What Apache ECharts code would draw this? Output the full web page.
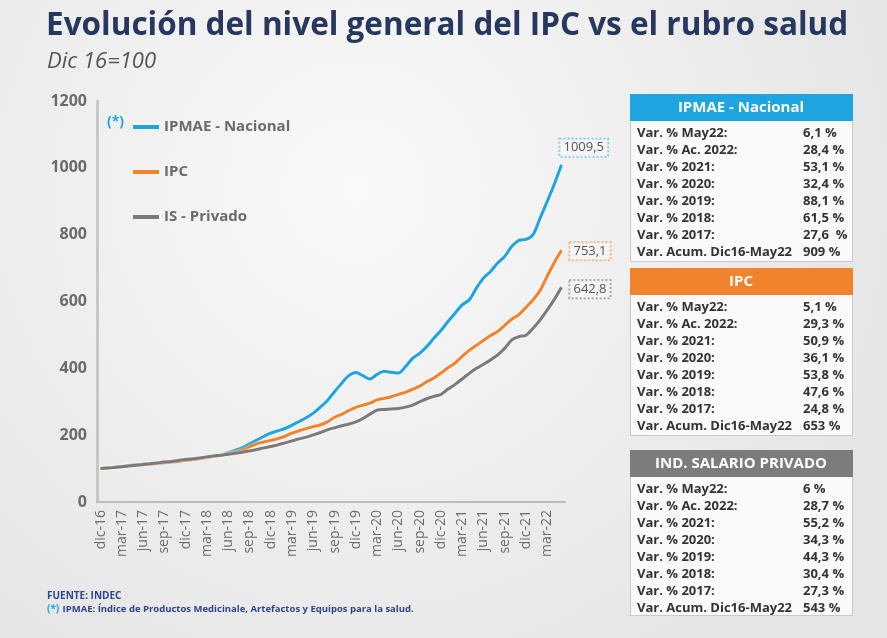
<!DOCTYPE html>
<html><head><meta charset="utf-8">
<script src="https://cdn.jsdelivr.net/npm/echarts@6/dist/echarts.min.js"></script>
<style>html,body{margin:0;padding:0;background:#f2f2f2;}#c{width:887px;height:638px;}</style>
</head><body><div id="c"></div>
<script>
const months = ['dic-16',
 'ene-17','feb-17','mar-17','abr-17','may-17','jun-17','jul-17','ago-17','sep-17','oct-17','nov-17','dic-17',
 'ene-18','feb-18','mar-18','abr-18','may-18','jun-18','jul-18','ago-18','sep-18','oct-18','nov-18','dic-18',
 'ene-19','feb-19','mar-19','abr-19','may-19','jun-19','jul-19','ago-19','sep-19','oct-19','nov-19','dic-19',
 'ene-20','feb-20','mar-20','abr-20','may-20','jun-20','jul-20','ago-20','sep-20','oct-20','nov-20','dic-20',
 'ene-21','feb-21','mar-21','abr-21','may-21','jun-21','jul-21','ago-21','sep-21','oct-21','nov-21','dic-21',
 'ene-22','feb-22','mar-22','abr-22','may-22'];

const ipmae = [100,
 102,104,106.5,109,111,113,115,117,119.5,122,124.5,127.6,
 129.5,131.5,134,137,141,148,155,163,174,185,196,206.1,
 213,220,230,241,252,266,284,304,330,355,378,387.6,
 378,368,382,391,388,386,405,430,445,465,490,513.2,
 540,565,590,605,640,670,690,715,735,765,783,785.7,
 800,850,900,951.5,1009.5];

const ipc = [100,
 101.6,103.7,106.1,108.9,110.5,111.8,113.8,115.4,117.6,119.4,121.0,124.8,
 127.0,130.1,133.1,136.8,139.6,144.8,149.3,155.1,165.2,174.1,179.6,184.3,
 189.6,196.8,206.0,213.1,219.6,225.5,230.5,239.6,253.7,262.1,273.2,283.4,
 289.8,295.7,305.6,310.1,314.9,322.0,328.2,337.1,346.6,359.7,371.0,385.9,
 401.5,415.9,435.9,453.7,468.7,483.6,498.1,510.4,528.5,547.1,560.9,582.5,
 605.2,633.5,676.1,716.9,753.1];

const isPrivado = [100,
 101.5,103.5,105.5,107.5,110,112.5,114.5,117,119.5,121.5,124,127.3,
 129,132,135,138,140,143,146,149,153,157,162,166,
 171,177,183,189,194,201,208,216,222,228,233,239.5,
 250,263,275,277,278,280,284,290,300,309,316,321.7,
 338,352,368,385,400,412,425,440,460,485,495,499.2,
 520,545,575,606.4,642.8];

const seriesNames = ['IPMAE - Nacional','IPC','IS - Privado'];
const yTicks = [0,200,400,600,800,1000,1200];

const tableTitles = ['IPMAE - Nacional','IPC','IND. SALARIO PRIVADO'];
const rowLabels = ['Var. % May22:','Var. % Ac. 2022:','Var. % 2021:','Var. % 2020:','Var. % 2019:','Var. % 2018:','Var. % 2017:','Var. Acum. Dic16-May22'];
const ipmaeVals = ['6,1 %','28,4 %','53,1 %','32,4 %','88,1 %','61,5 %','27,6  %','909 %'];
const ipcVals = ['5,1 %','29,3 %','50,9 %','36,1 %','53,8 %','47,6 %','24,8 %','653 %'];
const isVals = ['6 %','28,7 %','55,2 %','34,3 %','44,3 %','30,4 %','27,3 %','543 %'];

const FONT = '"Open Sans", "Noto Sans", sans-serif';
const BLUE = '#1ea5df', ORANGE = '#f0832c', GRAY = '#7a7a7a';

const chart = echarts.init(document.getElementById('c'), null, {renderer:'canvas'});

// tables
const tables = [
  {title: tableTitles[0], vals: ipmaeVals, color: BLUE, top: 94, bottom: 261},
  {title: tableTitles[1], vals: ipcVals, color: ORANGE, top: 268, bottom: 435},
  {title: tableTitles[2], vals: isVals, color: '#7c7c7c', top: 450, bottom: 615}
];
const graphics = [];
tables.forEach(t => {
  graphics.push({type:'rect', shape:{x:630.5, y:t.top+0.5, width:222, height:t.bottom-t.top},
    style:{fill:'#fafafa', stroke:'#c9c9c9', lineWidth:1}});
  graphics.push({type:'rect', shape:{x:630, y:t.top, width:223, height:27}, style:{fill:t.color}});
  graphics.push({type:'text', x:741, y:t.top+14, style:{text:t.title, fill:'#fff', font:'bold 15px '+FONT, align:'center', verticalAlign:'middle'}});
  rowLabels.forEach((lab, i) => {
    const y = t.top + 39 + i*17.1;
    graphics.push({type:'text', x:637, y:y, style:{text:lab, fill:'#333', font:'bold 13px '+FONT, verticalAlign:'middle'}});
    graphics.push({type:'text', x:803, y:y, style:{text:t.vals[i], fill:'#333', font:'bold 13px '+FONT, verticalAlign:'middle'}});
  });
});
// titles and notes
graphics.push({type:'text', x:46, y:26, style:{text:'Evolución del nivel general del IPC vs el rubro salud', fill:'#27385f', font:'bold 31.5px '+FONT, verticalAlign:'middle'}});
graphics.push({type:'text', x:47, y:62, style:{text:'Dic 16=100', fill:'#555', font:'italic 22px '+FONT, verticalAlign:'middle'}});
graphics.push({type:'text', x:107, y:122, style:{text:'(*)', fill:BLUE, font:'bold 14px '+FONT, verticalAlign:'middle'}});
graphics.push({type:'text', x:47, y:596, style:{text:'FUENTE: INDEC', fill:'#2b468a', font:'bold 10px '+FONT, verticalAlign:'middle'}});
graphics.push({type:'text', x:47, y:609, style:{
  text:'{a|(*)} {b|IPMAE: Índice de Productos Medicinale, Artefactos y Equipos para la salud.}',
  verticalAlign:'middle',
  rich:{a:{fill:BLUE, font:'bold 10px '+FONT}, b:{fill:'#2b468a', font:'bold 9.5px '+FONT}}}});

const commaFmt = p => String(p.value).replace('.', ',');
function mkSeries(name, data, color, offset, borderColor) {
  return {
    name, type:'line', data, smooth:0.3, showSymbol:false, symbol:'none',
    lineStyle:{color, width:3, shadowColor:'rgba(255,255,255,0.9)', shadowBlur:2},
    itemStyle:{color},
    endLabel:{show:true, formatter:commaFmt, offset, color:'#555', fontFamily:FONT, fontSize:13,
      borderColor:borderColor, borderWidth:1, borderType:'dotted', padding:[3,4,2,4], backgroundColor:'rgba(255,255,255,0.3)'}
  };
}

chart.setOption({
  backgroundColor: {type:'radial', x:0.4, y:0.3, r:0.9,
    colorStops:[{offset:0,color:'#f9f9f9'},{offset:1,color:'#e5e5e5'}]},
  animation:false,
  grid:{left:97, right:322, top:101, bottom:136},
  legend:{orient:'vertical', left:128, top:112, itemWidth:26, itemHeight:4, itemGap:25, icon:'rect',
    data:seriesNames,
    textStyle:{fontFamily:FONT, fontSize:15, fontWeight:'bold', color:'#6b6b6b', lineHeight:20}},
  xAxis:{type:'category', data:months, boundaryGap:true,
    axisLine:{lineStyle:{color:'#bdbdbd', width:2}},
    axisTick:{interval:2, length:4, lineStyle:{color:'#bdbdbd', width:1.5}},
    axisLabel:{interval:2, rotate:90, margin:8, color:'#6b6b6b', fontFamily:FONT, fontSize:14}},
  yAxis:{type:'value', min:yTicks[0], max:yTicks[yTicks.length-1], interval:200,
    splitLine:{show:false},
    axisLine:{show:true, lineStyle:{color:'#c0c0c0', width:2.5}},
    axisTick:{show:false},
    axisLabel:{margin:10, color:'#6b6b6b', fontFamily:FONT, fontSize:16, fontWeight:'bold', formatter: v => String(v)}},
  series:[
    mkSeries(seriesNames[0], ipmae, BLUE, [-10,-17], '#6fc6ec'),
    mkSeries(seriesNames[1], ipc, ORANGE, [0,1], '#f4a86a'),
    mkSeries(seriesNames[2], isPrivado, GRAY, [0,2], '#9a9a9a')
  ],
  graphic: graphics
});
</script>
</body></html>
